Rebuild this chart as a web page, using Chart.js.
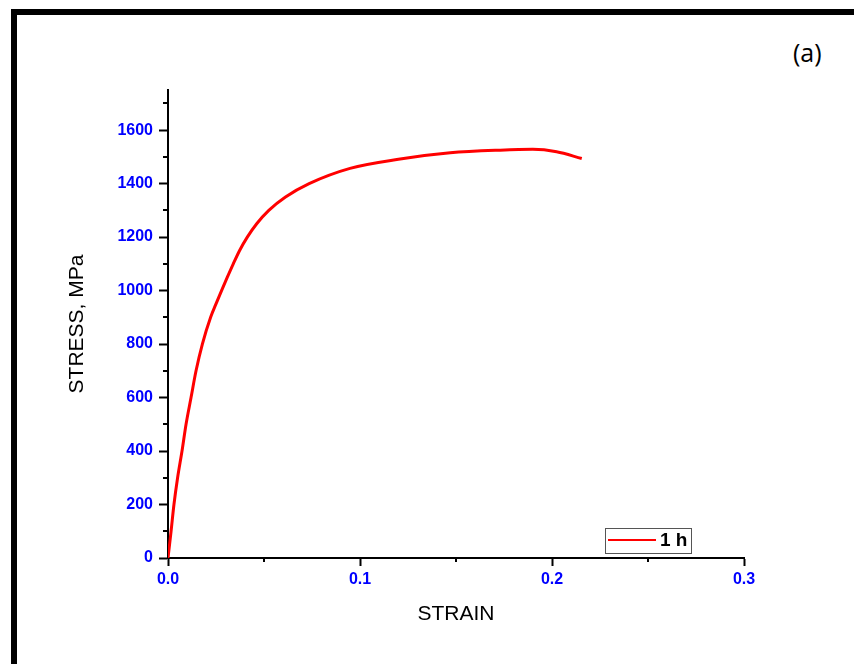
<!doctype html>
<html lang="en">
  <head>
    <meta charset="UTF-8" />
    <title>Stress-strain (a)</title>
    <script src="https://cdn.jsdelivr.net/npm/chart.js"></script>
    <style>
      body {
        margin: 0;
        background: #fff;
      }
      #wrap {
        position: relative;
        width: 854px;
        height: 664px;
        overflow: hidden;
      }
      #frame {
        position: absolute;
        left: 11px;
        top: 9px;
        right: -10px;
        bottom: -10px;
        border-top: 6px solid #000;
        border-left: 6px solid #000;
      }
      #panel {
        position: absolute;
        left: 793px;
        top: 35px;
        font: 25px "Open Sans", sans-serif;
        color: #000;
      }
      canvas {
        position: absolute;
        left: 0;
        top: 0;
      }
    </style>
  </head>
  <body>
    <div id="wrap">
      <div id="frame"></div>
      <div id="panel">(a)</div>
      <canvas id="chart" width="854" height="664"></canvas>
    </div>

    <script>
      // values
      const strain = [
        0, 0.0016, 0.0031, 0.005, 0.0073, 0.0094, 0.012, 0.0146, 0.0179,
        0.0222, 0.025, 0.0279, 0.0309, 0.034, 0.0373, 0.0413, 0.0462, 0.0525,
        0.0612, 0.0735, 0.0948, 0.12, 0.147, 0.173, 0.19, 0.2024, 0.2155,
      ];
      const stress = [
        0, 100, 200, 300, 400, 500, 600, 700, 800, 900, 950, 1000, 1050, 1100,
        1150, 1200, 1250, 1300, 1350, 1400, 1457, 1491, 1515, 1525, 1528, 1519,
        1494,
      ];
      const seriesLabel = "1 h";
      const xTicks = [0, 0.1, 0.2, 0.3];
      const yTicks = [0, 200, 400, 600, 800, 1000, 1200, 1400, 1600];

      const tickFont = { family: "Liberation Sans, Arial", size: 16, weight: "bold" };
      const titleFont = { family: "Liberation Sans, Arial", size: 21 };

      // minor ticks + legend box inside the plot
      const extras = {
        id: "extras",
        afterDraw(chart) {
          const ctx = chart.ctx;
          const xs = chart.scales.x;
          const ys = chart.scales.y;
          ctx.save();
          ctx.strokeStyle = "#000";
          ctx.lineWidth = 2;
          ctx.beginPath();
          for (let v = 100; v < 1750; v += 200) {
            const py = Math.round(ys.getPixelForValue(v));
            ctx.moveTo(chart.chartArea.left - 5, py);
            ctx.lineTo(chart.chartArea.left, py);
          }
          for (let v = 0.05; v < 0.3; v += 0.1) {
            const px = Math.round(xs.getPixelForValue(v));
            ctx.moveTo(px, chart.chartArea.bottom);
            ctx.lineTo(px, chart.chartArea.bottom + 4);
          }
          ctx.stroke();

          // legend
          const ds = chart.data.datasets[0];
          ctx.strokeStyle = "#555";
          ctx.lineWidth = 1;
          ctx.strokeRect(605.5, 528.5, 86, 25);
          ctx.strokeStyle = ds.borderColor;
          ctx.lineWidth = 2;
          ctx.beginPath();
          ctx.moveTo(608, 540);
          ctx.lineTo(656, 540);
          ctx.stroke();
          ctx.fillStyle = "#000";
          ctx.font = "bold 19px 'Liberation Sans', Arial";
          ctx.textBaseline = "middle";
          ctx.fillText(ds.label, 660, 541);
          ctx.restore();
        },
      };

      new Chart(document.getElementById("chart"), {
        type: "line",
        data: {
          datasets: [
            {
              label: seriesLabel,
              data: strain.map((s, i) => ({ x: s, y: stress[i] })),
              borderColor: "#ff0000",
              borderWidth: 3,
              pointRadius: 0,
              cubicInterpolationMode: "monotone",
            },
          ],
        },
        options: {
          responsive: false,
          animation: false,
          layout: { padding: { top: 90, right: 110, left: 0, bottom: 0 } },
          plugins: {
            legend: { display: false },
            tooltip: { enabled: false },
          },
          scales: {
            x: {
              type: "linear",
              min: 0,
              max: 0.3,
              afterBuildTicks: (s) => {
                s.ticks = xTicks.map((v) => ({ value: v }));
              },
              afterFit: (s) => {
                s.height = 106;
              },
              ticks: {
                color: "#0000ff",
                font: tickFont,
                padding: 4,
                callback: (v) => v.toFixed(1),
              },
              grid: {
                drawOnChartArea: false,
                tickLength: 8,
                tickWidth: 2,
                tickColor: "#000",
              },
              border: { color: "#000", width: 2 },
              title: {
                display: true,
                text: "STRAIN",
                color: "#000",
                font: titleFont,
                padding: { top: 0, bottom: 37 },
              },
            },
            y: {
              min: 0,
              max: 1750,
              afterBuildTicks: (s) => {
                s.ticks = yTicks.map((v) => ({ value: v }));
              },
              afterFit: (s) => {
                s.width = 168;
              },
              ticks: {
                color: "#0000ff",
                font: tickFont,
                padding: 6,
                callback: (v) => String(v),
              },
              grid: {
                drawOnChartArea: false,
                tickLength: 9,
                tickWidth: 2,
                tickColor: "#000",
              },
              border: { color: "#000", width: 2 },
              title: {
                display: true,
                text: "STRESS, MPa",
                color: "#000",
                font: titleFont,
                padding: { top: 65, bottom: 0 },
              },
            },
          },
        },
        plugins: [extras],
      });
    </script>
  </body>
</html>
